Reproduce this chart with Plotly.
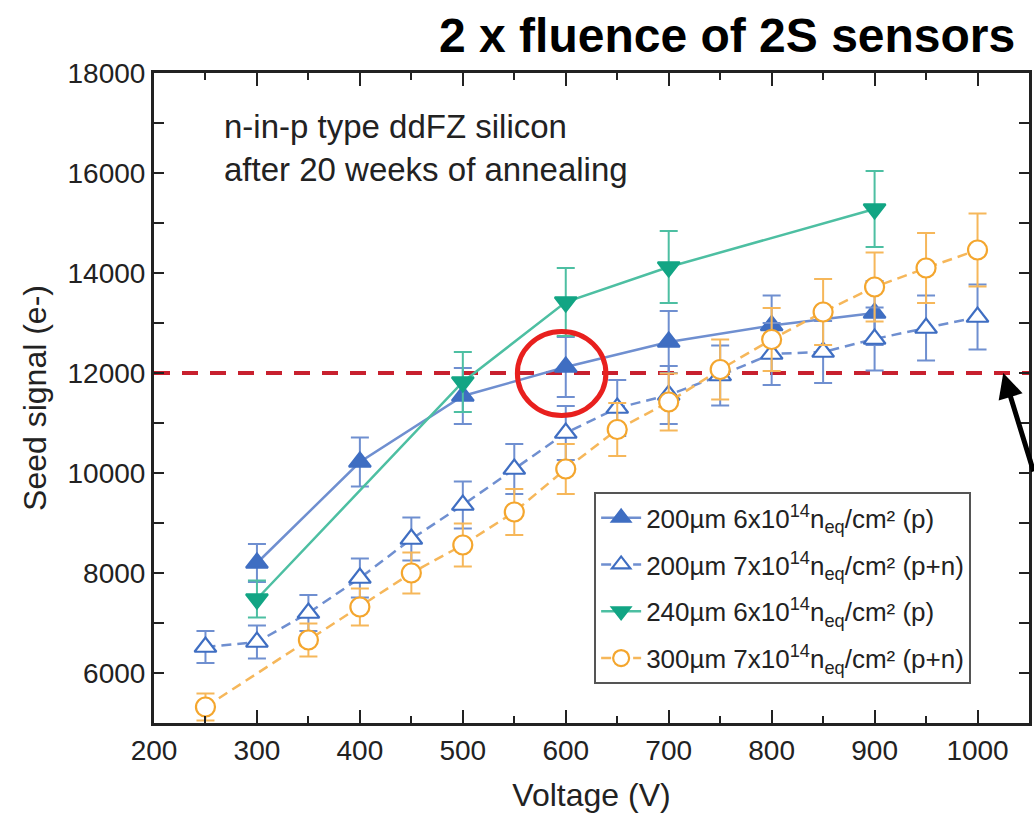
import plotly.graph_objects as go

# Bias voltage (V), seed signal (e-) and uncertainty per sensor series
v_200_6p = [300, 400, 500, 600, 700, 800, 900]
s_200_6p = [8200, 10220, 11540, 12120, 12620, 12950, 13200]
e_200_6p = [380, 490, 560, 600, 620, 600, 640]

v_200_7pn = [250, 300, 350, 400, 450, 500, 550, 600, 650, 700, 750, 800, 850, 900, 950, 1000]
s_200_7pn = [6520, 6620, 7200, 7900, 8680, 9360, 10080, 10800, 11300, 11560, 11950, 12380, 12420, 12680, 12900, 13120]
e_200_7pn = [320, 330, 360, 390, 430, 470, 500, 540, 560, 580, 600, 620, 620, 630, 650, 650]

v_240_6p = [300, 500, 600, 700, 900]
s_240_6p = [7480, 11820, 13420, 14120, 15280]
e_240_6p = [370, 600, 680, 720, 760]

v_300_7pn = [250, 350, 400, 450, 500, 550, 600, 650, 700, 750, 800, 850, 900, 950, 1000]
s_300_7pn = [5320, 6660, 7320, 8000, 8560, 9220, 10080, 10870, 11420, 12070, 12670, 13220, 13720, 14100, 14460]
e_300_7pn = [270, 330, 370, 410, 430, 460, 500, 530, 570, 600, 630, 660, 690, 700, 730]

names = [
    "200µm 6x10<sup>14</sup>n<sub>eq</sub>/cm² (p)",
    "200µm 7x10<sup>14</sup>n<sub>eq</sub>/cm² (p+n)",
    "240µm 6x10<sup>14</sup>n<sub>eq</sub>/cm² (p)",
    "300µm 7x10<sup>14</sup>n<sub>eq</sub>/cm² (p+n)",
]

threshold = 12000

FONT = "Liberation Sans, Arial, sans-serif"
BLUE = "#3F6EC2"
BLUE_L = "#6F8FD0"
GREEN = "#12A584"
GREEN_L = "#4DBFA2"
ORANGE = "#F4A62E"
ORANGE_L = "#F6B75A"

fig = go.Figure()


def add_series(x, y, err, name, group, line_color, mk_color, symbol, fill, dash):
    fig.add_trace(go.Scatter(
        x=x, y=y, name=name, legendgroup=group, mode="lines+markers",
        line=dict(color=line_color, width=2.5, dash=dash),
        marker=dict(symbol=symbol, size=19, color=fill,
                    line=dict(color=mk_color, width=2.2)),
        error_y=dict(type="data", array=err, visible=True,
                     color=line_color, thickness=2, width=9),
    ))


add_series(v_200_6p, s_200_6p, e_200_6p, names[0], "a", BLUE_L, BLUE, "triangle-up", BLUE, "solid")
add_series(v_200_7pn, s_200_7pn, e_200_7pn, names[1], "b", BLUE_L, BLUE, "triangle-up", "white", "10px,6px")
add_series(v_240_6p, s_240_6p, e_240_6p, names[2], "c", GREEN_L, GREEN, "triangle-down", GREEN, "solid")
add_series(v_300_7pn, s_300_7pn, e_300_7pn, names[3], "d", ORANGE_L, ORANGE, "circle", "white", "10px,6px")

# 12000 e- threshold
fig.add_shape(type="line", xref="paper", x0=0, x1=1, yref="y", y0=threshold, y1=threshold,
              line=dict(color="#C8202E", width=4, dash="16px,12px"), layer="below")

# highlight ring around the 600 V point
fig.add_shape(type="circle", xref="x", yref="y", x0=553, x1=639, y0=11150, y1=12830,
              line=dict(color="#E8201E", width=5), layer="above")

# pointer toward the threshold
fig.add_annotation(x=1025, y=12000, xref="x", yref="y", ax=38, ay=100, text="",
                   showarrow=True, arrowhead=2, arrowsize=1, arrowwidth=5, arrowcolor="black")

fig.add_annotation(x=0.0775, y=0.95, xref="paper", yref="paper", xanchor="left", yanchor="top",
                   align="left", showarrow=False,
                   text="n-in-p type ddFZ silicon<br>after 20 weeks of annealing",
                   font=dict(family=FONT, size=33, color="#222"))

fig.add_annotation(x=0.986, y=1.058, xref="paper", yref="paper", xanchor="right", yanchor="middle",
                   showarrow=False, text="<b>2 x fluence of 2S sensors</b>",
                   font=dict(family=FONT, size=48, color="black"))

axis_common = dict(
    showline=True, linewidth=3, linecolor="#222", mirror="allticks",
    ticks="inside", tickcolor="#222", tickwidth=2,
    showgrid=False, zeroline=False,
    tickfont=dict(family=FONT, size=28, color="#222"),
)

fig.update_xaxes(
    range=[200, 1050], dtick=100, tick0=200, ticklen=13, tickformat="d",
    minor=dict(dtick=50, ticklen=7, tickcolor="#222", tickwidth=2, ticks="inside"),
    title=dict(text="Voltage (V)", font=dict(family=FONT, size=32, color="#222"), standoff=20),
    **axis_common,
)
fig.update_yaxes(
    range=[5000, 18000], dtick=2000, tick0=6000, ticklen=10, tickformat="d",
    minor=dict(dtick=1000, ticklen=10, tickcolor="#222", tickwidth=2, ticks="inside"),
    title=dict(text="Seed signal (e-)", font=dict(family=FONT, size=32, color="#222"), standoff=12),
    **axis_common,
)

fig.update_layout(
    width=1034, height=819,
    margin=dict(l=154, r=2, t=73, b=96),
    paper_bgcolor="white", plot_bgcolor="white",
    font=dict(family=FONT, color="#222"),
    showlegend=True,
    legend=dict(x=0.503, y=0.355, xanchor="left", yanchor="top",
                bordercolor="#555", borderwidth=2, bgcolor="white",
                tracegroupgap=10, itemwidth=40,
                font=dict(family=FONT, size=26, color="#222")),
)

fig.write_html("out.html")
